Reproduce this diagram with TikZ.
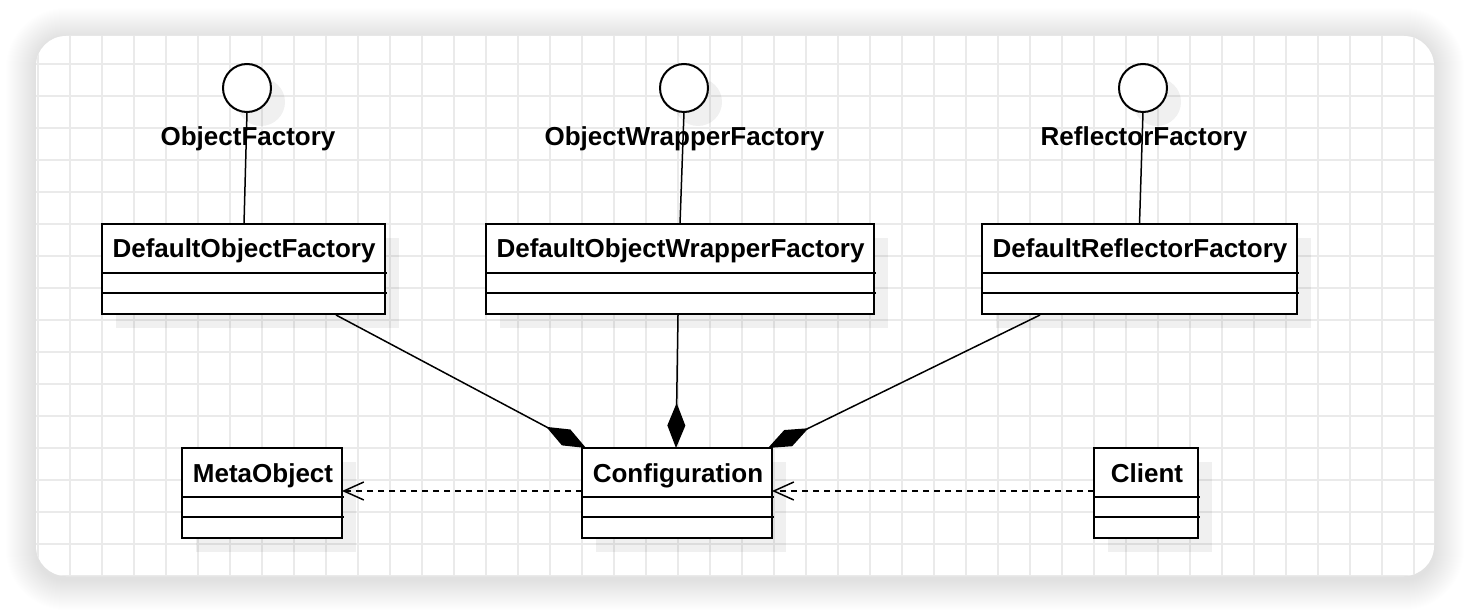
\documentclass[tikz,border=0pt]{standalone}
\usepackage{fontspec}
\setmainfont{Liberation Sans}
\usetikzlibrary{arrows.meta,calc,shadows}
\definecolor{gridc}{RGB}{234,234,234}
\begin{document}
\begin{tikzpicture}[x=1pt,y=-1pt,
  every node/.style={font=\fontsize{26}{30}\selectfont\bfseries},
  shd/.style={drop shadow={shadow xshift=14pt, shadow yshift=-14pt, fill=black, opacity=0.06}},
  cls/.style={draw, line width=2pt, fill=white, inner sep=0pt, outer sep=0pt, minimum height=90pt, shd},
  iface/.style={circle, draw, line width=2pt, fill=white, minimum size=48pt, inner sep=0pt, outer sep=0pt, shd},
  ttl/.style={inner sep=0pt, anchor=base},
  div/.style={line width=2pt},
  comp/.style={line width=1.5pt, -{Diamond[length=45pt,width=18pt]}},
  dep/.style={line width=1.5pt, dash pattern=on 6pt off 5pt, -{Straight Barb[length=20pt,width=18pt,line width=1.5pt]}},
]
\useasboundingbox (0,0) rectangle (1470,612);
% panel shadow
\foreach \i [evaluate=\i as \r using 30+\i] in {1,...,30}
  \fill[black, opacity=0.0045, rounded corners=\r pt] (36-\i,38-\i) rectangle (1434+\i,580+\i);
\fill[white, rounded corners=30pt] (36,36) rectangle (1434,576);
\begin{scope}
  \clip[rounded corners=30pt] (36,36) rectangle (1434,576);
  \foreach \x in {38,70,...,1434} \draw[gridc, line width=1.2pt] (\x,36) -- (\x,576);
  \foreach \y in {64,96,...,576} \draw[gridc, line width=1.2pt] (36,\y) -- (1434,\y);
\end{scope}

% interfaces
\node[iface] (c1) at (247,88) {};
\node[iface] (c2) at (684,88) {};
\node[iface] (c3) at (1143,88) {};

% classes
\node[cls, minimum width=283pt] (dof) at (243.5,269) {};
\node[cls, minimum width=388pt] (dowf) at (680,269) {};
\node[cls, minimum width=315pt] (drf) at (1139.5,269) {};
\node[cls, minimum width=160pt] (meta) at (262,493) {};
\node[cls, minimum width=190pt] (conf) at (677,493) {};
\node[cls, minimum width=104pt] (client) at (1146,493) {};

\foreach \n in {dof,dowf,drf,meta,conf,client}{
  \draw[div] ($(\n.north west)+(0,49)$) -- ($(\n.north east)+(2,49)$);
  \draw[div] ($(\n.north west)+(0,69)$) -- ($(\n.north east)+(2,69)$);
}

% titles
\node[ttl] (dofT) at ($(dof.north)+(0.5,34)$) {DefaultObjectFactory};
\node[ttl] (dowfT) at ($(dowf.north)+(0.5,34)$) {DefaultObjectWrapperFactory};
\node[ttl] (drfT) at ($(drf.north)+(0.5,34)$) {DefaultReflectorFactory};
\node[ttl] (metaT) at ($(meta.north)+(1,34)$) {MetaObject};
\node[ttl] (confT) at ($(conf.north)+(1,34)$) {Configuration};
\node[ttl] (clientT) at ($(client.north)+(1,34)$) {Client};

% interface lines and labels
\draw[line width=1.5pt] (c1.south) -- ($(dof.north)+(0.5,0)$);
\draw[line width=1.5pt] (c2.south) -- (dowf.north);
\draw[line width=1.5pt] (c3.south) -- (drf.north);
\node[ttl] (l1) at (248,146) {ObjectFactory};
\node[ttl] (l2) at (684.5,146) {ObjectWrapperFactory};
\node[ttl] (l3) at (1144,146) {ReflectorFactory};

% compositions
\draw[comp] ($(dof.south)+(92.5,1)$) -- ($(conf.north west)+(4,0)$);
\draw[comp] ($(dowf.south)+(-2,1)$) -- ($(conf.north)+(-1,0)$);
\draw[comp] ($(drf.south)+(-99.5,1)$) -- ($(conf.north east)+(-4,0)$);

% dependencies
\draw[dep] ($(conf.west)+(0,-2)$) -- ($(meta.east)+(0,-2)$);
\draw[dep] ($(client.west)+(0,-2)$) -- ($(conf.east)+(0,-2)$);
\end{tikzpicture}
\end{document}
